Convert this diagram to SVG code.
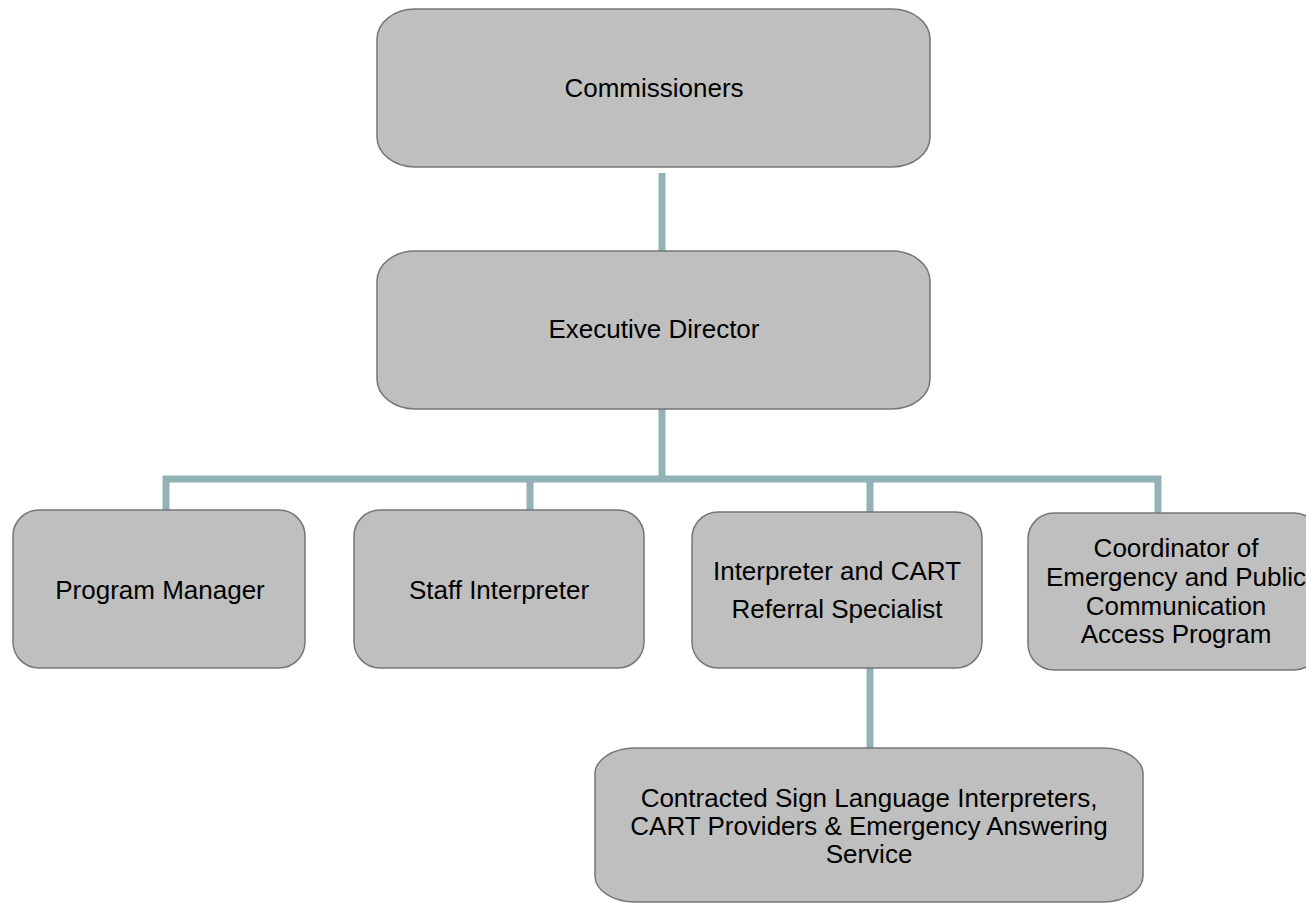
<svg xmlns="http://www.w3.org/2000/svg" width="1306" height="903" viewBox="0 0 1306 903">
<style>
.box{fill:#bfbfbf;stroke:#767676;stroke-width:1.5}
.t{font-family:"Liberation Sans",Arial,sans-serif;font-size:26px;fill:#000;text-anchor:middle}
.c{stroke:#93b2b6;stroke-width:7;fill:none}
</style>
<rect width="1306" height="903" fill="#fff"/>
<g id="connectors">
<line class="c" x1="662" y1="173" x2="662" y2="252"/>
<line class="c" x1="662" y1="409" x2="662" y2="479"/>
<polyline class="c" points="166,511 166,479 1158,479 1158,513"/>
<line class="c" x1="530" y1="479" x2="530" y2="511"/>
<line class="c" x1="870" y1="479" x2="870" y2="513"/>
<line class="c" x1="870" y1="668" x2="870" y2="749"/>
</g>
<g id="commissioners">
<rect class="box" x="377" y="9" width="553" height="158" rx="38" ry="30"/>
<text class="t" x="654" y="97">Commissioners</text>
</g>
<g id="executive-director">
<rect class="box" x="377" y="251" width="553" height="158" rx="38" ry="30"/>
<text class="t" x="654" y="338">Executive Director</text>
</g>
<g id="program-manager">
<rect class="box" x="13" y="510" width="292" height="158" rx="26" ry="26"/>
<text class="t" x="160" y="599">Program Manager</text>
</g>
<g id="staff-interpreter">
<rect class="box" x="354" y="510" width="290" height="158" rx="26" ry="26"/>
<text class="t" x="499" y="599">Staff Interpreter</text>
</g>
<g id="interpreter-cart">
<rect class="box" x="692" y="512" width="290" height="156" rx="26" ry="26"/>
<text class="t" x="837" y="580">Interpreter and CART</text>
<text class="t" x="837" y="618">Referral Specialist</text>
</g>
<g id="coordinator">
<rect class="box" x="1028" y="513" width="292" height="157" rx="26" ry="26"/>
<text class="t" x="1176" y="557">Coordinator of</text>
<text class="t" x="1176" y="586">Emergency and Public</text>
<text class="t" x="1176" y="615">Communication</text>
<text class="t" x="1176" y="643">Access Program</text>
</g>
<g id="contracted">
<rect class="box" x="595" y="748" width="548" height="154" rx="40" ry="26"/>
<text class="t" x="869" y="807">Contracted Sign Language Interpreters,</text>
<text class="t" x="869" y="835">CART Providers &amp; Emergency Answering</text>
<text class="t" x="869" y="863">Service</text>
</g>
</svg>
